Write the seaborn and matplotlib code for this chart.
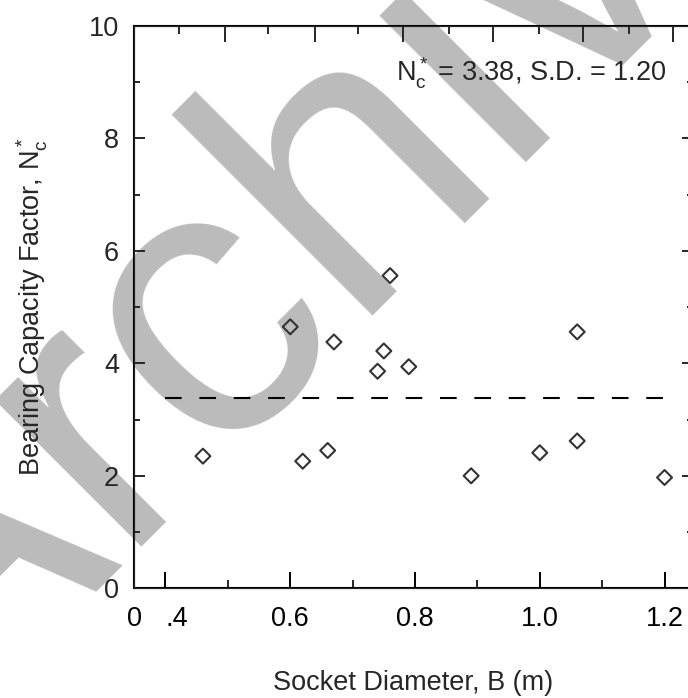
import matplotlib
matplotlib.use("Agg")
import matplotlib.pyplot as plt
import numpy as np
import pandas as pd
import seaborn as sns

# socket diameter (m) and back-figured bearing capacity factor
diameter = [0.46, 0.60, 0.62, 0.66, 0.67, 0.74, 0.75, 0.76, 0.79, 0.89, 1.00, 1.06, 1.06, 1.20]
nc_star = [2.35, 4.65, 2.26, 2.45, 4.38, 3.86, 4.22, 5.56, 3.94, 2.00, 2.41, 4.56, 2.62, 1.97]
nc_mean = 3.38
nc_sd = 1.20
mean_span = [0.4, 1.2]

x_lim = [0.35, 1.245]
x_ticks = [0.35, 0.4, 0.6, 0.8, 1.0, 1.2]
x_ticklabels = ["0", ".4", "0.6", "0.8", "1.0", "1.2"]
x_minor = [0.5, 0.7, 0.9, 1.1]
top_major = [0.495, 0.639, 0.781, 0.925, 1.070, 1.214]
top_minor = [0.421, 0.565, 0.709, 0.854, 0.999, 1.143]
y_ticks = [0, 2, 4, 6, 8, 10]
y_minor = [1, 3, 5, 7, 9]

sns.set_style("ticks")
plt.rcParams["font.family"] = ["Liberation Sans", "DejaVu Sans"]
plt.rcParams["mathtext.fontset"] = "custom"
plt.rcParams["mathtext.rm"] = "Liberation Sans"
plt.rcParams["mathtext.it"] = "Liberation Sans"

df = pd.DataFrame({"B": diameter, "Nc": nc_star})

fig = plt.figure(figsize=(6.88, 6.98), dpi=100)
fig.patch.set_facecolor("white")
ax = fig.add_axes([0.1952, 0.1572, 0.8115, 0.8056])
ax.set_facecolor("none")

# watermark behind everything
fig.text(-62 / 688, (698 - 749) / 698, "Archive", fontsize=282, color="#bbbbbb",
         rotation=45, rotation_mode="anchor", ha="left", va="baseline", zorder=-1)

sns.scatterplot(data=df, x="B", y="Nc", marker="D", s=58, facecolors="none",
                edgecolor="#333333", linewidth=1.5, ax=ax, zorder=3)
ax.hlines(nc_mean, mean_span[0], mean_span[1], colors="black", linewidth=1.5,
          linestyles=(0, (8, 8.5)), zorder=2)

ax.set_xlim(x_lim)
ax.set_ylim(0, 10)
ax.set_xticks(x_ticks)
ax.set_xticklabels(x_ticklabels)
ax.set_xticks(x_minor, minor=True)
ax.set_yticks(y_ticks)
ax.set_yticks(y_minor, minor=True)
for lbl in ax.get_xticklabels():
    if lbl.get_text() == ".4":
        lbl.set_ha("left")

ax.tick_params(axis="x", which="major", direction="in", length=11.3, width=1.4,
               labelsize=19.5, pad=13, colors="black")
ax.tick_params(axis="x", which="minor", direction="in", length=5.5, width=1.4)
ax.tick_params(axis="y", which="major", direction="in", length=7.6, width=1.4,
               labelsize=19.5, pad=11, right=True)
ax.tick_params(axis="y", which="minor", direction="in", length=4.5, width=1.4, right=True)
for sp in ax.spines.values():
    sp.set_linewidth(1.5)
    sp.set_color("black")

top = ax.twiny()
top.set_xlim(x_lim)
top.set_xticks(top_major)
top.set_xticks(top_minor, minor=True)
top.tick_params(axis="x", which="major", direction="in", length=11.3, width=1.4, labeltop=False)
top.tick_params(axis="x", which="minor", direction="in", length=5.5, width=1.4)
top.set_facecolor("none")

ax.set_xlabel("Socket Diameter, B (m)", fontsize=19.5, labelpad=27)
ax.set_ylabel(r"Bearing Capacity Factor, $\mathregular{N_c^*}$", fontsize=19.5, labelpad=28)

ax.text(0.954, 0.901, r"$\mathregular{N_c^*}$ = %.2f, S.D. = %.2f" % (nc_mean, nc_sd),
        transform=ax.transAxes, ha="right", va="baseline", fontsize=19.5)

fig.savefig("out.png", dpi=100)
